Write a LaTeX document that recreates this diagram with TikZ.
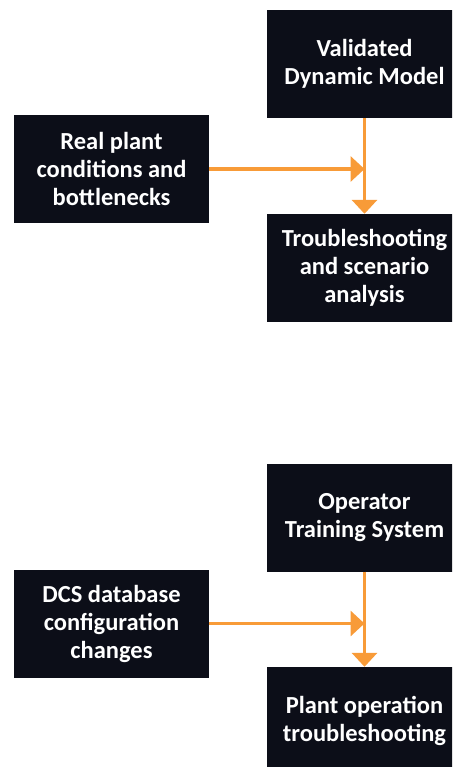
\documentclass[tikz,border=0pt]{standalone}
\usepackage{fontspec}
\setmainfont{Carlito}
\usetikzlibrary{arrows.meta}
\definecolor{boxfill}{HTML}{0C0E18}
\definecolor{arrowor}{HTML}{F89B38}
\begin{document}
\begin{tikzpicture}[x=1pt,y=-1pt,
  box/.style={rectangle, fill=boxfill, text=white, minimum width=195pt, minimum height=108pt,
    inner sep=0pt, align=center, font=\fontsize{24.5pt}{28pt}\selectfont\bfseries},
  flow/.style={draw=arrowor, line width=3.5pt, -{Triangle[width=25pt,length=14pt]}}]
\clip (0,0) rectangle (452,767);
\useasboundingbox (0,0) rectangle (452,767);
% top group
\node[box] (A) at (364.5,64) {Validated\\Dynamic Model};
\node[box] (B) at (111.5,169) {Real plant\\conditions and\\bottlenecks};
\node[box] (C) at (364.5,268) {Troubleshooting\\and scenario\\analysis};
\coordinate (j1) at (A.south |- B.east);
\draw[flow] (A.south) -- (C.north);
\draw[flow] (B.east) -- (j1);
% bottom group
\node[box] (D) at (364.5,517.5) {Operator\\Training System};
\node[box] (E) at (111.5,623.5) {DCS database\\configuration\\changes};
\node[box] (F) at (364.5,721) {Plant operation\\troubleshooting};
\coordinate (j2) at (D.south |- E.east);
\draw[flow] (D.south) -- (F.north);
\draw[flow] (E.east) -- (j2);
\end{tikzpicture}
\end{document}
